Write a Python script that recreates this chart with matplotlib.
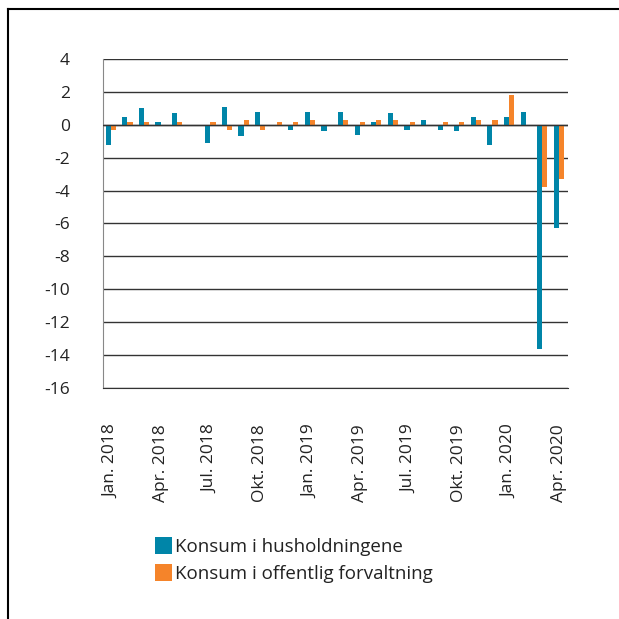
import numpy as np
import matplotlib.pyplot as plt
from matplotlib.lines import Line2D

plt.rcParams['font.family'] = ['Open Sans', 'DejaVu Sans']
plt.rcParams['axes.unicode_minus'] = False

months = ['Jan. 2018', 'Feb. 2018', 'Mar. 2018', 'Apr. 2018', 'Mai 2018', 'Jun. 2018',
          'Jul. 2018', 'Aug. 2018', 'Sep. 2018', 'Okt. 2018', 'Nov. 2018', 'Des. 2018',
          'Jan. 2019', 'Feb. 2019', 'Mar. 2019', 'Apr. 2019', 'Mai 2019', 'Jun. 2019',
          'Jul. 2019', 'Aug. 2019', 'Sep. 2019', 'Okt. 2019', 'Nov. 2019', 'Des. 2019',
          'Jan. 2020', 'Feb. 2020', 'Mar. 2020', 'Apr. 2020']

husholdninger = [-1.2, 0.5, 1.0, 0.2, 0.7, 0.0, -1.1, 1.1, -0.7, 0.8, 0.0, -0.3,
                 0.8, -0.4, 0.8, -0.6, 0.2, 0.7, -0.3, 0.3, -0.3, -0.4, 0.5, -1.2,
                 0.5, 0.8, -13.6, -6.3]
offentlig = [-0.3, 0.2, 0.2, 0.0, 0.2, -0.1, 0.2, -0.3, 0.3, -0.3, 0.2, 0.2,
             0.3, 0.0, 0.3, 0.2, 0.3, 0.3, 0.2, 0.0, 0.2, 0.2, 0.3, 0.3,
             1.8, -0.1, -3.8, -3.3]

label_hus = 'Konsum i husholdningene'
label_off = 'Konsum i offentlig forvaltning'

blue = '#0085a8'
orange = '#f5842a'

fig = plt.figure(figsize=(6.19, 6.19), dpi=100)
ax = fig.add_axes([0.1664, 0.3732, 0.7512, 0.5315])

x = np.arange(len(months))
w = 0.31
ax.bar(x - w / 2, husholdninger, w, color=blue, label=label_hus, zorder=2)
ax.bar(x + w / 2, offentlig, w, color=orange, label=label_off, zorder=2)
ax.axhline(0, color='#333333', lw=1, zorder=3)

ax.set_ylim(-16, 4)
ax.set_yticks(np.arange(-16, 5, 2))
ax.set_xlim(-0.47, len(months) - 0.45)
ax.set_xticks(x[::3])
ax.set_xticklabels(months[::3], rotation=90)
ax.yaxis.grid(True, color='#333333', lw=1)
ax.set_axisbelow(True)
for s in ['top', 'right']:
    ax.spines[s].set_visible(False)
ax.spines['bottom'].set_color('#333333')
ax.spines['left'].set_color('#888888')
ax.tick_params(axis='both', length=0, labelsize=12.5, colors='#222222')
ax.tick_params(axis='y', pad=24)
ax.tick_params(axis='x', pad=26)

ax.legend(loc='upper left', bbox_to_anchor=(0.236, 0.147), bbox_transform=fig.transFigure,
          frameon=False, fontsize=13.5, handlelength=0.9, handleheight=0.95,
          handletextpad=0.15, labelspacing=0.45, borderpad=0, labelcolor='#222222')

# outer frame
fig.add_artist(Line2D([0.013, 1.0], [0.985, 0.985], color='black', lw=1.5))
fig.add_artist(Line2D([0.013, 0.013], [0.0, 0.985], color='black', lw=1.5))

fig.savefig('out.png', dpi=100)
